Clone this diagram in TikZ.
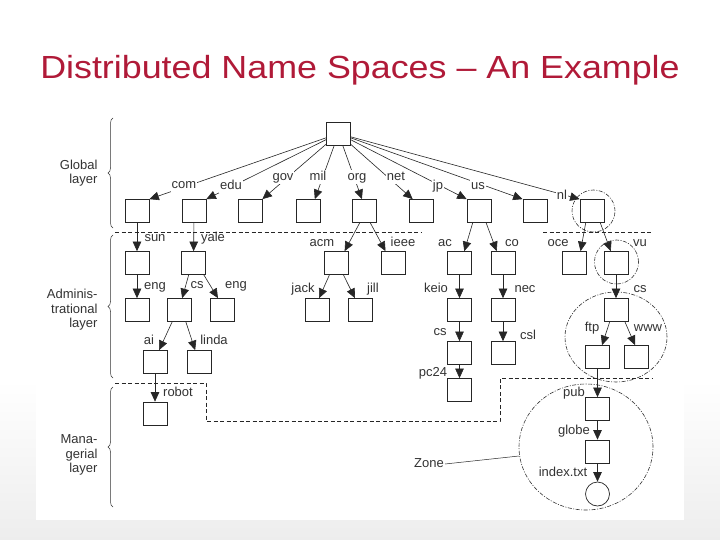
\documentclass[tikz,border=0pt]{standalone}
\usepackage{fontspec}
\setmainfont{Liberation Sans}
\usetikzlibrary{arrows.meta,decorations.pathreplacing}
\definecolor{titlered}{RGB}{176,26,56}
\definecolor{lblgray}{RGB}{51,51,51}

\begin{document}
\begin{tikzpicture}
[
x=1pt, y=-1pt,
dnbox/.style={draw=black!85, line width=0.7pt, minimum width=24pt, minimum height=23pt, inner sep=0},
leafnode/.style={circle, draw=black!85, line width=0.7pt, minimum size=24pt, inner sep=0},
dnlabel/.style={font=\fontsize{13}{15}\selectfont, text=lblgray, inner sep=1pt, text height=9pt, text depth=2.5pt},
rootlabel/.style={dnlabel, fill=white},
dnarrow/.style={draw=black!85, line width=0.6pt, -{Triangle[length=9.5pt,width=8.5pt]}},
layerline/.style={draw=black!85, line width=0.7pt, dash pattern=on 4pt off 2.5pt},
zoneline/.style={draw=black!80, line width=0.6pt, dash pattern=on 4pt off 1.5pt on 1pt off 1.5pt},
layerbrace/.style={draw=black!80, decorate, decoration={brace, amplitude=5pt}, line width=0.5pt},
layertext/.style={font=\fontsize{13}{14.5}\selectfont, text=black!80, align=right, anchor=east}
]
\useasboundingbox (0,0) rectangle (720,540);
\shade[top color=white, bottom color=gray!14] (0,380) rectangle (720,540);
\fill[white] (36,100) rectangle (684,520);

\node[font=\fontsize{32}{38}\selectfont, text=titlered, anchor=base, xscale=1.12] (title) at (360,79) {Distributed Name Spaces – An Example};

%Nodes
\node[dnbox] at(338.5,133.5)	(root) {};
\node[dnbox] at(137,211)	(com) {};
\node[dnbox] at(194,211)	(edu) {};
\node[dnbox] at(250,211)	(gov) {};
\node[dnbox] at(308,211)	(mil) {};
\node[dnbox] at(364,211)	(org) {};
\node[dnbox] at(421,211)	(net) {};
\node[dnbox] at(479,211)	(jp) {};
\node[dnbox] at(535,211)	(us) {};
\node[dnbox] at(592,211)	(nl) {};

\node[dnbox] at(137,263)	(sun) {};
\node[dnbox] at(193.5,263)	(yale) {};
\node[dnbox] at(336,263)	(acm) {};
\node[dnbox] at(393.5,263)	(ieee) {};
\node[dnbox] at(459.5,263)	(ac) {};
\node[dnbox] at(503,263)	(co) {};
\node[dnbox] at(574,263)	(oce) {};
\node[dnbox] at(616,263)	(vu) {};

\node[dnbox] at(137,310)	(suneng) {};
\node[dnbox] at(179,310)	(yalecs) {};
\node[dnbox] at(222.5,310)	(yaleeng) {};
\node[dnbox] at(317,310)	(jack) {};
\node[dnbox] at(360,310)	(jill) {};
\node[dnbox] at(459.5,310)	(keio) {};
\node[dnbox] at(503,310)	(nec) {};
\node[dnbox] at(616,310)	(vucs) {};

\node[dnbox] at(155,362)	(ai) {};
\node[dnbox] at(199,362)	(linda) {};
\node[dnbox] at(459.5,353)	(keiocs) {};
\node[dnbox] at(503,353)	(csl) {};
\node[dnbox] at(597.5,357)	(ftp) {};
\node[dnbox] at(636.5,357)	(www) {};

\node[dnbox] at(155,413.5)	(robot) {};
\node[dnbox] at(459.5,390)	(pc24) {};
\node[dnbox] at(597.5,409)	(pub) {};
\node[dnbox] at(597.5,451.5)	(globe) {};
\node[leafnode] at(597.5,494)	(index) {};

%Layers
\draw[layerline] (115,232) -- (421,232);
\draw[layerline] (543,232) -- (653,232);
\draw[layerline] (115,383) -- (206,383) -- (206,421) -- (500,421) -- (500,378) -- (653,378);

\draw[layerbrace] (113,228) -- (113,118);
\draw[layerbrace] (113,378) -- (113,235);
\draw[layerbrace] (113,507) -- (113,387);
\node[layertext] (lglobal) at(101,173) {Global\\layer};
\node[layertext] (ladmin) at(101,310) {Adminis-\\trational\\layer};
\node[layertext] (lmanage) at(101,455) {Mana-\\gerial\\layer};

%Zones
\draw[zoneline] (593.5,211) ellipse [x radius=21.5pt, y radius=21pt];
\draw[zoneline] (616.5,262) ellipse [x radius=22pt, y radius=22pt];
\draw[zoneline] (616,337) ellipse [x radius=51pt, y radius=45pt];
\draw[zoneline] (586,447) ellipse [x radius=67pt, y radius=63pt];

%Edges
\draw[dnarrow] (root) -- (com.north east);
\draw[dnarrow] (root) -- (edu.north east);
\draw[dnarrow] (root) -- (gov.north east);
\draw[dnarrow] (root) -- (mil.60);
\draw[dnarrow] (root) -- (org.100);
\draw[dnarrow] (root) -- (net.125);
\draw[dnarrow] (root) -- (jp.north west);
\draw[dnarrow] (root) -- (us.north west);
\draw[dnarrow] (root) -- (nl.north west);

\draw[dnarrow] (com) -- (sun);
\draw[dnarrow] (edu) -- (yale);
\draw[dnarrow] (org.250) -- (acm.54);
\draw[dnarrow] (org.298) -- (ieee.124);
\draw[dnarrow] (jp.242) -- (ac.68);
\draw[dnarrow] (jp.301) -- (co.118);
\draw[dnarrow] (nl.242) -- (oce.61);
\draw[dnarrow] (nl.305) -- (vu.114);

\draw[dnarrow] (sun) -- (suneng);
\draw[dnarrow] (yale.248) -- (yalecs.75);
\draw[dnarrow] (yale.311) -- (yaleeng.111);
\draw[dnarrow] (acm.241) -- (jack.80);
\draw[dnarrow] (acm.302) -- (jill.113);
\draw[dnarrow] (ac) -- (keio);
\draw[dnarrow] (co) -- (nec);
\draw[dnarrow] (vu) -- (vucs);

\draw[dnarrow] (yalecs.240) -- (ai.71);
\draw[dnarrow] (yalecs.300) -- (linda.108);
\draw[dnarrow] (keio) -- (keiocs);
\draw[dnarrow] (nec) -- (csl);
\draw[dnarrow] (vucs.242) -- (ftp.69);
\draw[dnarrow] (vucs.307) -- (www.97);

\draw[dnarrow] (ai) -- (robot);
\draw[dnarrow] (keiocs) -- (pc24);
\draw[dnarrow] (ftp) -- (pub);
\draw[dnarrow] (pub) -- (globe);
\draw[dnarrow] (globe) -- (index);

%Labels
\node[rootlabel]	(lcom) at(184,185) {com};
\node[rootlabel]	(ledu) at(231,186) {edu};
\node[rootlabel]	(lgov) at(283,177) {gov};
\node[rootlabel]	(lmil) at(318,177) {mil};
\node[rootlabel]	(lorg) at(357,177) {org};
\node[rootlabel]	(lnet) at(396,177) {net};
\node[rootlabel]	(ljp) at(438,186) {jp};
\node[rootlabel]	(lus) at(478,186) {us};
\node[rootlabel]	(lnl) at(562,196) {nl};

\node[dnlabel]	(lsun) at(155,238) {sun};
\node[dnlabel]	(lyale) at(213,238) {yale};
\node[dnlabel]	(lacm) at(322,243) {acm};
\node[dnlabel]	(lieee) at(403,243) {ieee};
\node[dnlabel]	(lac) at(445,243) {ac};
\node[dnlabel]	(lco) at(512,243) {co};
\node[dnlabel]	(loce) at(558,243) {oce};
\node[dnlabel]	(lvu) at(640,243) {vu};

\node[dnlabel]	(lsuneng) at(155,286) {eng};
\node[dnlabel]	(lyalecs) at(197,285) {cs};
\node[dnlabel]	(lyaleeng) at(236,285) {eng};
\node[dnlabel]	(ljack) at(303,289) {jack};
\node[dnlabel]	(ljill) at(373,289) {jill};
\node[dnlabel]	(lkeio) at(436,289) {keio};
\node[dnlabel]	(lnec) at(525,289) {nec};
\node[dnlabel]	(lvucs) at(640,289) {cs};

\node[dnlabel]	(lai) at(149,341) {ai};
\node[dnlabel]	(llinda) at(214,341) {linda};
\node[dnlabel]	(lkeiocs) at(440,332) {cs};
\node[dnlabel]	(lcsl) at(528,336) {csl};
\node[dnlabel]	(lftp) at(592,328) {ftp};
\node[dnlabel]	(lwww) at(648,328) {www};

\node[dnlabel]	(lrobot) at(178,393) {robot};
\node[dnlabel]	(lpc24) at(433,373) {pc24};
\node[dnlabel]	(lpub) at(574,393) {pub};
\node[dnlabel]	(lglobe) at(574,431) {globe};
\node[dnlabel]	(lindex) at(563,473) {index.txt};

\node[dnlabel]	(lzone) at(429,464) {Zone};
\coordinate (zoneedge) at (519,456);
\draw[black!85, line width=0.5pt] (lzone.east) -- (zoneedge);
\end{tikzpicture}
\end{document}
